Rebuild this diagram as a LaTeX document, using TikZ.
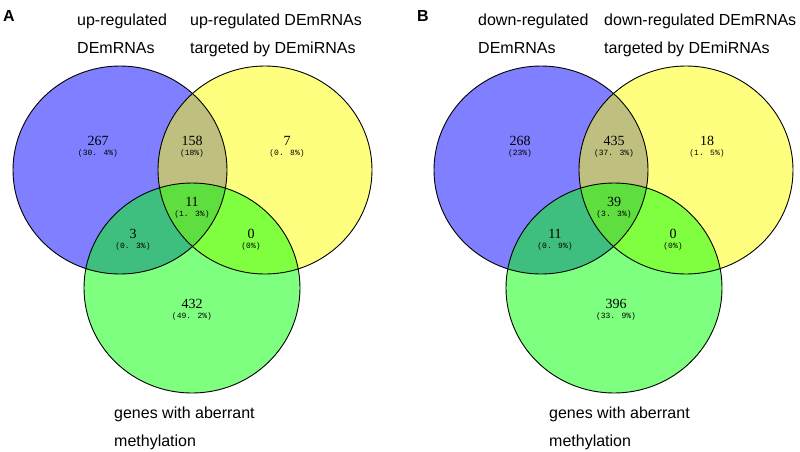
\documentclass[tikz,border=0pt]{standalone}
\usepackage{fontspec}
\setmainfont{Liberation Sans}
\newfontfamily\numfont{Liberation Serif}
\newfontfamily\pctfont{Liberation Mono}
\definecolor{SetBlue}{HTML}{0000FF}
\definecolor{SetYellow}{HTML}{FFFF00}
\definecolor{SetGreen}{HTML}{00FF00}
\definecolor{Ink}{HTML}{000000}
\tikzset{setfill/.style={fill opacity=0.5},setline/.style={draw=Ink,line width=0.9pt},setlabel/.style={anchor=base west,inner sep=0pt,font=\fontsize{16}{18}\selectfont},panel/.style={anchor=base west,inner sep=0pt,font=\fontsize{16}{18}\selectfont\bfseries},countnum/.style={inner sep=0pt,font=\numfont\fontsize{14}{16}\selectfont},pctnum/.style={inner sep=0pt,font=\pctfont\fontsize{8}{10}\selectfont}}
\begin{document}
\begin{tikzpicture}[x=1pt,y=-1pt]
\fill[white] (0,0) rectangle (800,451);
% panel A
\node[panel] (pa) at (3,21) {A};
\node[setlabel] (aup1) at (77,25) {up-regulated};\node[setlabel] (aup2) at (77,53) {DEmRNAs};
\node[setlabel] (atg1) at (190,25) {up-regulated DEmRNAs};\node[setlabel] (atg2) at (190,53) {targeted by DEmiRNAs};
\fill[SetBlue,setfill] (120,170) ellipse [x radius=107,y radius=104];
\fill[SetYellow,setfill] (265,170) ellipse [x radius=107,y radius=104];
\fill[SetGreen,setfill] (192,288) ellipse [x radius=108,y radius=105];
\draw[setline] (120,170) ellipse [x radius=107,y radius=104];\draw[setline] (265,170) ellipse [x radius=107,y radius=104];\draw[setline] (192,288) ellipse [x radius=108,y radius=105];
\node[countnum] (a267) at (98,141) {267};\node[pctnum] (a267p) at (98,153.5) {(30. 4\%)};
\node[countnum] (a158) at (192,141) {158};\node[pctnum] (a158p) at (192,153.5) {(18\%)};
\node[countnum] (a7) at (287,141) {7};\node[pctnum] (a7p) at (287,153.5) {(0. 8\%)};
\node[countnum] (a11) at (192,202) {11};\node[pctnum] (a11p) at (192,214.5) {(1. 3\%)};
\node[countnum] (a3) at (133,234) {3};\node[pctnum] (a3p) at (133,246.5) {(0. 3\%)};
\node[countnum] (a0) at (251,234) {0};\node[pctnum] (a0p) at (251,246.5) {(0\%)};
\node[countnum] (a432) at (192,304) {432};\node[pctnum] (a432p) at (192,316.5) {(49. 2\%)};
\node[setlabel] (ame1) at (114,418) {genes with aberrant};\node[setlabel] (ame2) at (114,446) {methylation};
% panel B
\node[panel] (pb) at (417,21) {B};
\node[setlabel] (bdn1) at (478,25) {down-regulated};\node[setlabel] (bdn2) at (478,53) {DEmRNAs};
\node[setlabel] (btg1) at (604,25) {down-regulated DEmRNAs};\node[setlabel] (btg2) at (604,53) {targeted by DEmiRNAs};
\fill[SetBlue,setfill] (541,170) ellipse [x radius=107,y radius=104];
\fill[SetYellow,setfill] (686,170) ellipse [x radius=107,y radius=104];
\fill[SetGreen,setfill] (614,288) ellipse [x radius=108,y radius=105];
\draw[setline] (541,170) ellipse [x radius=107,y radius=104];\draw[setline] (686,170) ellipse [x radius=107,y radius=104];\draw[setline] (614,288) ellipse [x radius=108,y radius=105];
\node[countnum] (b268) at (520,141) {268};\node[pctnum] (b268p) at (520,153.5) {(23\%)};
\node[countnum] (b435) at (614,141) {435};\node[pctnum] (b435p) at (614,153.5) {(37. 3\%)};
\node[countnum] (b18) at (707,141) {18};\node[pctnum] (b18p) at (707,153.5) {(1. 5\%)};
\node[countnum] (b39) at (614,202) {39};\node[pctnum] (b39p) at (614,214.5) {(3. 3\%)};
\node[countnum] (b11) at (555,234) {11};\node[pctnum] (b11p) at (555,246.5) {(0. 9\%)};
\node[countnum] (b0) at (673,234) {0};\node[pctnum] (b0p) at (673,246.5) {(0\%)};
\node[countnum] (b396) at (616,304) {396};\node[pctnum] (b396p) at (616,316.5) {(33. 9\%)};
\node[setlabel] (bme1) at (549,418) {genes with aberrant};\node[setlabel] (bme2) at (549,446) {methylation};
\end{tikzpicture}
\end{document}
